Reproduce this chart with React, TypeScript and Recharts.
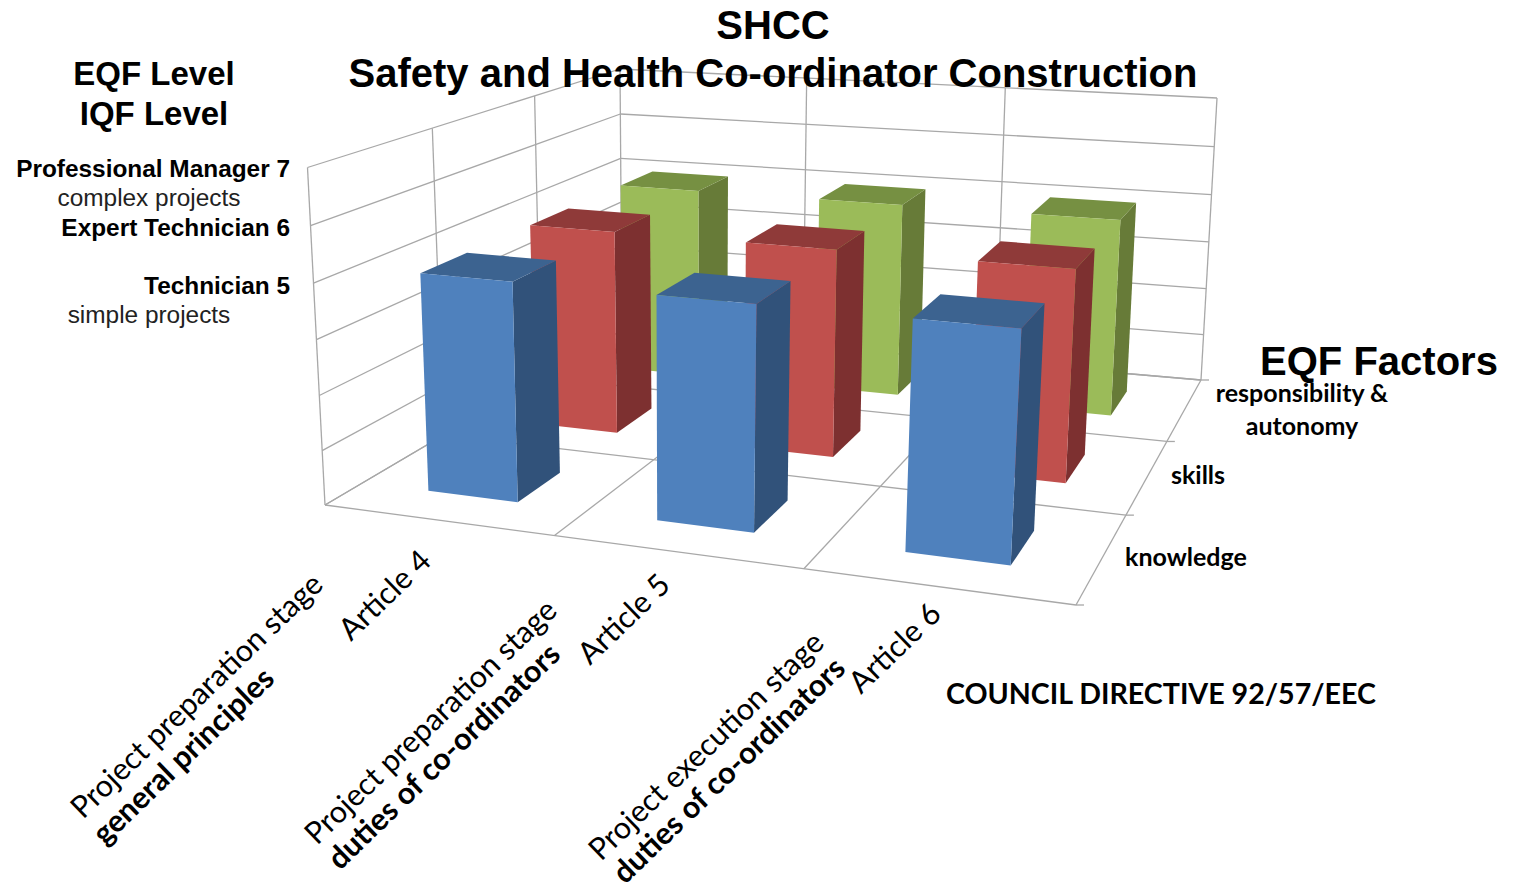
import { BarChart, Bar, XAxis, YAxis, Customized } from "recharts";

const articles = ["Article 4", "Article 5", "Article 6"];
const stages = ["Project preparation stage", "Project preparation stage", "Project execution stage"];
const topics = ["general principles", "duties of co-ordinators", "duties of co-ordinators"];
const knowledge = [5, 5, 5];
const skills = [5, 5, 5];
const responsibility = [5, 5, 5];
const levelTicks = [1, 2, 3, 4, 5, 6, 7];
const levelNames: Record<number, string> = {
  7: "Professional Manager 7",
  6: "Expert Technician 6",
  5: "Technician 5",
};
const levelNotes: Record<number, string> = {
  7: "complex projects",
  5: "simple projects",
};

const data = articles.map((name, i) => ({
  name,
  knowledge: knowledge[i],
  skills: skills[i],
  responsibility: responsibility[i],
}));

// the flat plot recharts lays out, which then gets bent into the 3d box
const W = 1524;
const H = 887;
const PLOT = { left: 100, top: 100, width: 900, height: 600 };
const BAR_W = (PLOT.width / 3) * 0.4;
const GRID = "#a8a8a8";
const TEXT = "#000";
const ARIAL = "'Liberation Sans', Arial, sans-serif";
const LATO = "Lato, sans-serif";

// screen corners of the box: [x, depth, level]
const C000 = [325, 505];
const C100 = [1076, 605];
const C010 = [622, 330];
const C110 = [1201, 380];
const C001 = [307.5, 167.5];
const C101 = [1097, 228];
const C011 = [620, 69];
const C111 = [1217, 98];

const warp = (t: number, a: number) => (a * t) / (1 + (a - 1) * t);
const lerp = (a: number, b: number, t: number) => a + (b - a) * t;

function project(u: number, z: number, v: number): [number, number] {
  const Z = warp(z, 1.33);
  const U = warp(u, lerp(0.88, 0.91, Z));
  const V = warp(v, 0.96);
  const axis = (k: number) =>
    lerp(
      lerp(lerp(C000[k], C100[k], U), lerp(C010[k], C110[k], U), Z),
      lerp(lerp(C001[k], C101[k], U), lerp(C011[k], C111[k], U), Z),
      V,
    );
  return [axis(0), axis(1)];
}

const toU = (x: number) => (x - PLOT.left) / PLOT.width;
const toV = (y: number) => (PLOT.top + PLOT.height - y) / PLOT.height;
const pts = (list: [number, number][]) => list.map((p) => p.join(",")).join(" ");

function Box({ x, y, width, height, row, front, top, side }: any) {
  const u0 = toU(x);
  const u1 = toU(x + width);
  const v0 = toV(y + height);
  const v1 = toV(y);
  const z0 = (row + 0.3) / 3;
  const z1 = (row + 0.7) / 3;
  return (
    <g>
      <polygon
        points={pts([project(u1, z0, v0), project(u1, z1, v0), project(u1, z1, v1), project(u1, z0, v1)])}
        fill={side}
      />
      <polygon
        points={pts([project(u0, z0, v1), project(u1, z0, v1), project(u1, z1, v1), project(u0, z1, v1)])}
        fill={top}
      />
      <polygon
        points={pts([project(u0, z0, v0), project(u1, z0, v0), project(u1, z0, v1), project(u0, z0, v1)])}
        fill={front}
      />
    </g>
  );
}

function Seg({ a, b }: { a: [number, number]; b: [number, number] }) {
  return <line x1={a[0]} y1={a[1]} x2={b[0]} y2={b[1]} stroke={GRID} strokeWidth={1.3} />;
}

function Walls() {
  const lines = [];
  const levels = [0, 1 / 6, 2 / 6, 3 / 6, 4 / 6, 5 / 6, 1];
  const cuts = [0, 1 / 3, 2 / 3, 1];
  levels.forEach((v, i) => {
    lines.push(<Seg key={`l${i}`} a={project(0, 0, v)} b={project(0, 1, v)} />);
    lines.push(<Seg key={`b${i}`} a={project(0, 1, v)} b={project(1, 1, v)} />);
  });
  cuts.forEach((c, i) => {
    lines.push(<Seg key={`fu${i}`} a={project(c, 0, 0)} b={project(c, 1, 0)} />);
    lines.push(<Seg key={`fz${i}`} a={project(0, c, 0)} b={project(1, c, 0)} />);
    // depth tick sticking out on the right edge
    const end = project(1, c, 0);
    lines.push(<Seg key={`t${i}`} a={end} b={[end[0] + 8, end[1]]} />);
    if (i < 3) lines.push(<Seg key={`wl${i}`} a={project(0, c, 0)} b={project(0, c, 1)} />);
    lines.push(<Seg key={`wb${i}`} a={project(c, 1, 0)} b={project(c, 1, 1)} />);
  });
  return <g>{lines}</g>;
}

// left edge of each two-line label, then the end of the article label
const STAGE_AT = [
  [[83, 820], [105, 846]],
  [[317, 846], [340, 871]],
  [[601, 862], [625, 885]],
];
const ARTICLE_AT = [[433, 563], [672, 587], [943, 616]];

function CategoryTick({ index, payload }: any) {
  const i = index ?? 0;
  return (
    <g fontFamily={LATO} fontSize={30.5} fill={TEXT}>
      <text transform={`translate(${STAGE_AT[i][0][0]},${STAGE_AT[i][0][1]}) rotate(-44)`}>{stages[i]}</text>
      <text
        transform={`translate(${STAGE_AT[i][1][0]},${STAGE_AT[i][1][1]}) rotate(-44)`}
        fontWeight={700}
      >
        {topics[i]}
      </text>
      <text transform={`translate(${ARTICLE_AT[i][0]},${ARTICLE_AT[i][1]}) rotate(-44)`} textAnchor="end">
        {payload.value}
      </text>
    </g>
  );
}

function LevelTick({ y, payload }: any) {
  const name = levelNames[payload.value];
  if (!name) return null;
  const base = project(0, 0, toV(y))[1] + 9 + (7 - payload.value);
  const note = levelNotes[payload.value];
  return (
    <g fontFamily={ARIAL} fontSize={24.4} fill={TEXT}>
      <text x={290} y={base} textAnchor="end" fontWeight={700}>
        {name}
      </text>
      {note && (
        <text x={149} y={base + 29} textAnchor="middle" fill="#222">
          {note}
        </text>
      )}
    </g>
  );
}

function Titles() {
  return (
    <g fill={TEXT}>
      <g fontFamily={ARIAL} fontWeight={700}>
        <text x={773} y={39} fontSize={40} textAnchor="middle">
          SHCC
        </text>
        <text x={773} y={87} fontSize={40} textAnchor="middle">
          Safety and Health Co-ordinator Construction
        </text>
        <text x={154} y={85} fontSize={33} textAnchor="middle">
          EQF Level
        </text>
        <text x={154} y={125} fontSize={33} textAnchor="middle">
          IQF Level
        </text>
        <text x={1379} y={375} fontSize={40} textAnchor="middle">
          EQF Factors
        </text>
      </g>
      <g fontFamily={LATO} fontWeight={700} fontSize={25}>
        <text x={1186} y={566} textAnchor="middle">knowledge</text>
        <text x={1198} y={484} textAnchor="middle">skills</text>
        <text x={1302} y={402} textAnchor="middle">responsibility &amp;</text>
        <text x={1302} y={435} textAnchor="middle">autonomy</text>
        <text x={1161} y={704} fontSize={28.6} textAnchor="middle">COUNCIL DIRECTIVE 92/57/EEC</text>
      </g>
    </g>
  );
}

const series = [
  { key: "responsibility", row: 2, front: "#9BBB59", top: "#769042", side: "#677B38" },
  { key: "skills", row: 1, front: "#C0504D", top: "#8F3A39", side: "#7D3030" },
  { key: "knowledge", row: 0, front: "#4F81BD", top: "#3C6390", side: "#31527A" },
];

export default function App() {
  return (
    <div style={{ position: "absolute", left: 0, top: 0, width: W, height: H, overflow: "hidden", background: "#fff" }}>
      <BarChart
        width={W}
        height={H}
        data={data}
        barSize={BAR_W}
        barGap={-BAR_W}
        margin={{
          left: PLOT.left - 1,
          top: PLOT.top,
          right: W - PLOT.left - PLOT.width,
          bottom: H - PLOT.top - PLOT.height - 1,
        }}
      >
        <Customized component={Walls} />
        <XAxis dataKey="name" height={1} axisLine={false} tickLine={false} tick={<CategoryTick />} interval={0} />
        <YAxis
          domain={[1, 7]}
          ticks={levelTicks}
          width={1}
          axisLine={false}
          tickLine={false}
          tick={<LevelTick />}
        />
        {series.map((s) => (
          <Bar
            key={s.key}
            dataKey={s.key}
            isAnimationActive={false}
            shape={(p: any) => <Box {...p} row={s.row} front={s.front} top={s.top} side={s.side} />}
          />
        ))}
        <Customized component={Titles} />
      </BarChart>
    </div>
  );
}
